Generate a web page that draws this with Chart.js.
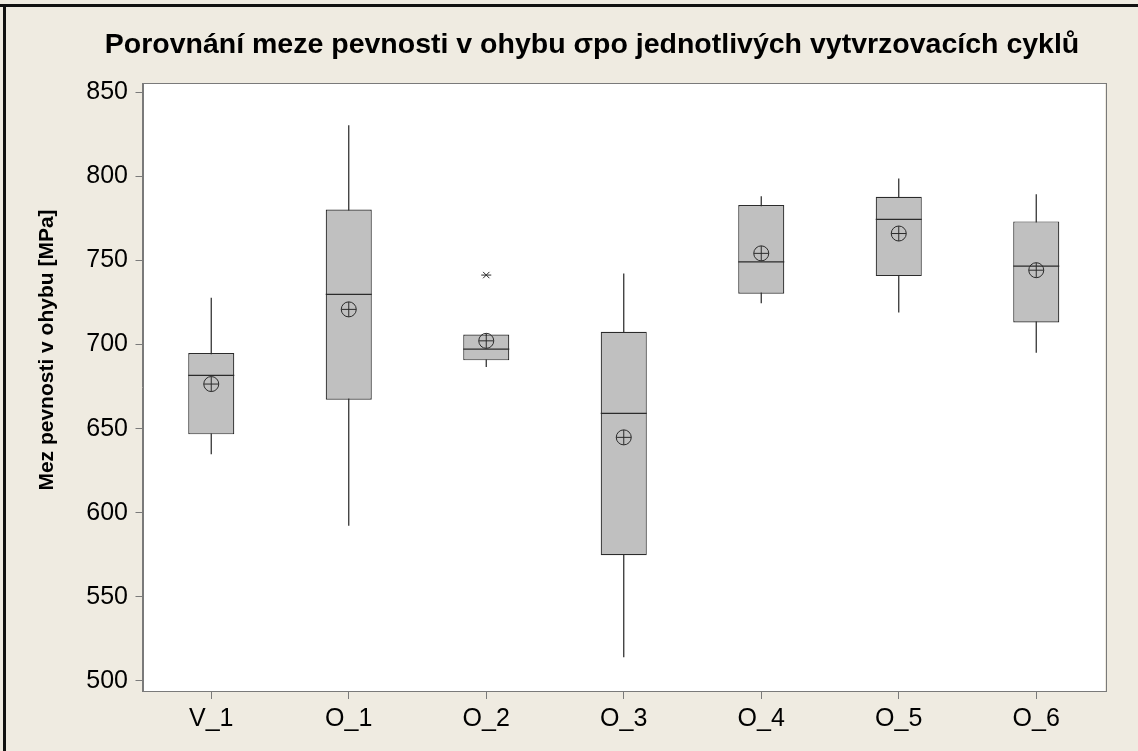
<!DOCTYPE html>
<html>
<head>
<meta charset="utf-8">
<script src="https://cdn.jsdelivr.net/npm/chart.js@4/dist/chart.umd.min.js"></script>
<style>
  html, body { margin: 0; padding: 0; background: #efebe1; }
  canvas { display: block; }
</style>
</head>
<body>
<canvas id="boxChart" width="1138" height="751"></canvas>
<script>
"use strict";

var categories = ["V_1", "O_1", "O_2", "O_3", "O_4", "O_5", "O_6"];
var whiskerLow = [634.7, 592.3, 686.6, 514.1, 724.5, 719.1, 695.1];
var q1 = [646.6, 667.2, 690.6, 574.7, 730.2, 740.7, 713.1];
var median = [681.7, 729.8, 697.3, 659.1, 749.2, 774.4, 746.6];
var q3 = [694.9, 780.3, 706.0, 707.6, 782.9, 787.8, 773.2];
var whiskerHigh = [727.8, 830.4, 706.0, 742.3, 788.2, 798.7, 789.4];
var means = [676.5, 720.9, 702.2, 644.8, 754.2, 766.0, 744.2];
var outliers = [null, null, 741.3, null, null, null, null];
var yTicks = [500, 550, 600, 650, 700, 750, 800, 850];

var titleText = "Porovnání meze pevnosti v ohybu σpo jednotlivých vytvrzovacích cyklů";
var yTitle = "Mez pevnosti v ohybu [MPa]";

var fontFamily = "'Liberation Sans', Arial, sans-serif";
var dark = "#2b2b2b";
var frameGray = "#7a7a7a";

// background, white plot area, black frame on the left/top, plot box, titles
var decorations = {
    id: "decorations",
    beforeDraw: function(chart) {
        var ctx = chart.ctx;
        var a = chart.chartArea;
        ctx.save();
        ctx.fillStyle = "#efebe1";
        ctx.fillRect(0, 0, chart.width, chart.height);
        ctx.fillStyle = "#ffffff";
        ctx.fillRect(a.left, a.top, a.right - a.left, a.bottom - a.top);
        ctx.fillStyle = "#111111";
        ctx.fillRect(0, 4, chart.width, 3);
        ctx.fillRect(3, 4, 3, chart.height - 4);
        ctx.restore();
    },
    afterDraw: function(chart) {
        var ctx = chart.ctx;
        var a = chart.chartArea;
        ctx.save();
        ctx.strokeStyle = frameGray;
        ctx.lineWidth = 1;
        ctx.strokeRect(Math.round(a.left) + 0.5, Math.round(a.top) + 0.5,
            Math.round(a.right - a.left), Math.round(a.bottom - a.top));

        ctx.fillStyle = "#000000";
        ctx.textAlign = "center";
        ctx.textBaseline = "middle";
        ctx.font = "bold 28.5px " + fontFamily;
        ctx.fillText(titleText, 592, 45);

        ctx.translate(47, 350);
        ctx.rotate(-Math.PI / 2);
        ctx.font = "bold 21px " + fontFamily;
        ctx.fillText(yTitle, 0, 0);
        ctx.restore();
    }
};

function boxRange(lo, hi) {
    return lo.map(function(v, i) { return [v, hi[i]]; });
}

function pointSet(values, style, radius, order) {
    return {
        type: "line",
        data: values,
        showLine: false,
        pointStyle: style,
        pointRadius: radius,
        pointBorderWidth: 1,
        pointBorderColor: dark,
        pointBackgroundColor: "rgba(0,0,0,0)",
        order: order
    };
}

var medianSet = pointSet(median, "line", 23, 1);
medianSet.pointBorderWidth = 1.2;

new Chart(document.getElementById("boxChart"), {
    type: "bar",
    data: {
        labels: categories,
        datasets: [
            medianSet,
            pointSet(means, "circle", 7.5, 0),
            pointSet(means, "cross", 7.5, 0),
            pointSet(outliers, "crossRot", 4.5, 0),
            pointSet(outliers, "line", 5, 0),
            {
                // box
                data: boxRange(q1, q3),
                backgroundColor: "#c0c0c0",
                borderColor: dark,
                borderWidth: 1.2,
                borderSkipped: false,
                grouped: false,
                categoryPercentage: 1,
                barPercentage: 0.335,
                order: 2
            }, {
                // whisker
                data: boxRange(whiskerLow, whiskerHigh),
                backgroundColor: dark,
                borderWidth: 0,
                grouped: false,
                categoryPercentage: 1,
                barPercentage: 0.009,
                order: 3
            }
        ]
    },
    options: {
        responsive: false,
        animation: false,
        layout: {
            padding: { top: 83, left: 34, right: 33, bottom: 0 }
        },
        plugins: {
            legend: { display: false },
            tooltip: { enabled: false },
            title: { display: false }
        },
        scales: {
            x: {
                offset: true,
                afterFit: function(scale) { scale.height = 60; },
                grid: {
                    offset: false,
                    drawOnChartArea: false,
                    drawTicks: true,
                    tickLength: 8,
                    tickColor: frameGray
                },
                border: { display: true, color: frameGray },
                ticks: {
                    color: "#000000",
                    padding: 5,
                    font: { family: fontFamily, size: 25 }
                }
            },
            y: {
                min: 494,
                max: 855.5,
                afterFit: function(scale) { scale.width = 108.5; },
                afterBuildTicks: function(scale) {
                    scale.ticks = yTicks.map(function(v) { return { value: v }; });
                },
                grid: {
                    drawOnChartArea: false,
                    drawTicks: true,
                    tickLength: 7,
                    tickColor: frameGray
                },
                border: { display: true, color: frameGray },
                ticks: {
                    color: "#000000",
                    padding: 7.5,
                    font: { family: fontFamily, size: 25 }
                }
            }
        }
    },
    plugins: [decorations]
});
</script>
</body>
</html>
